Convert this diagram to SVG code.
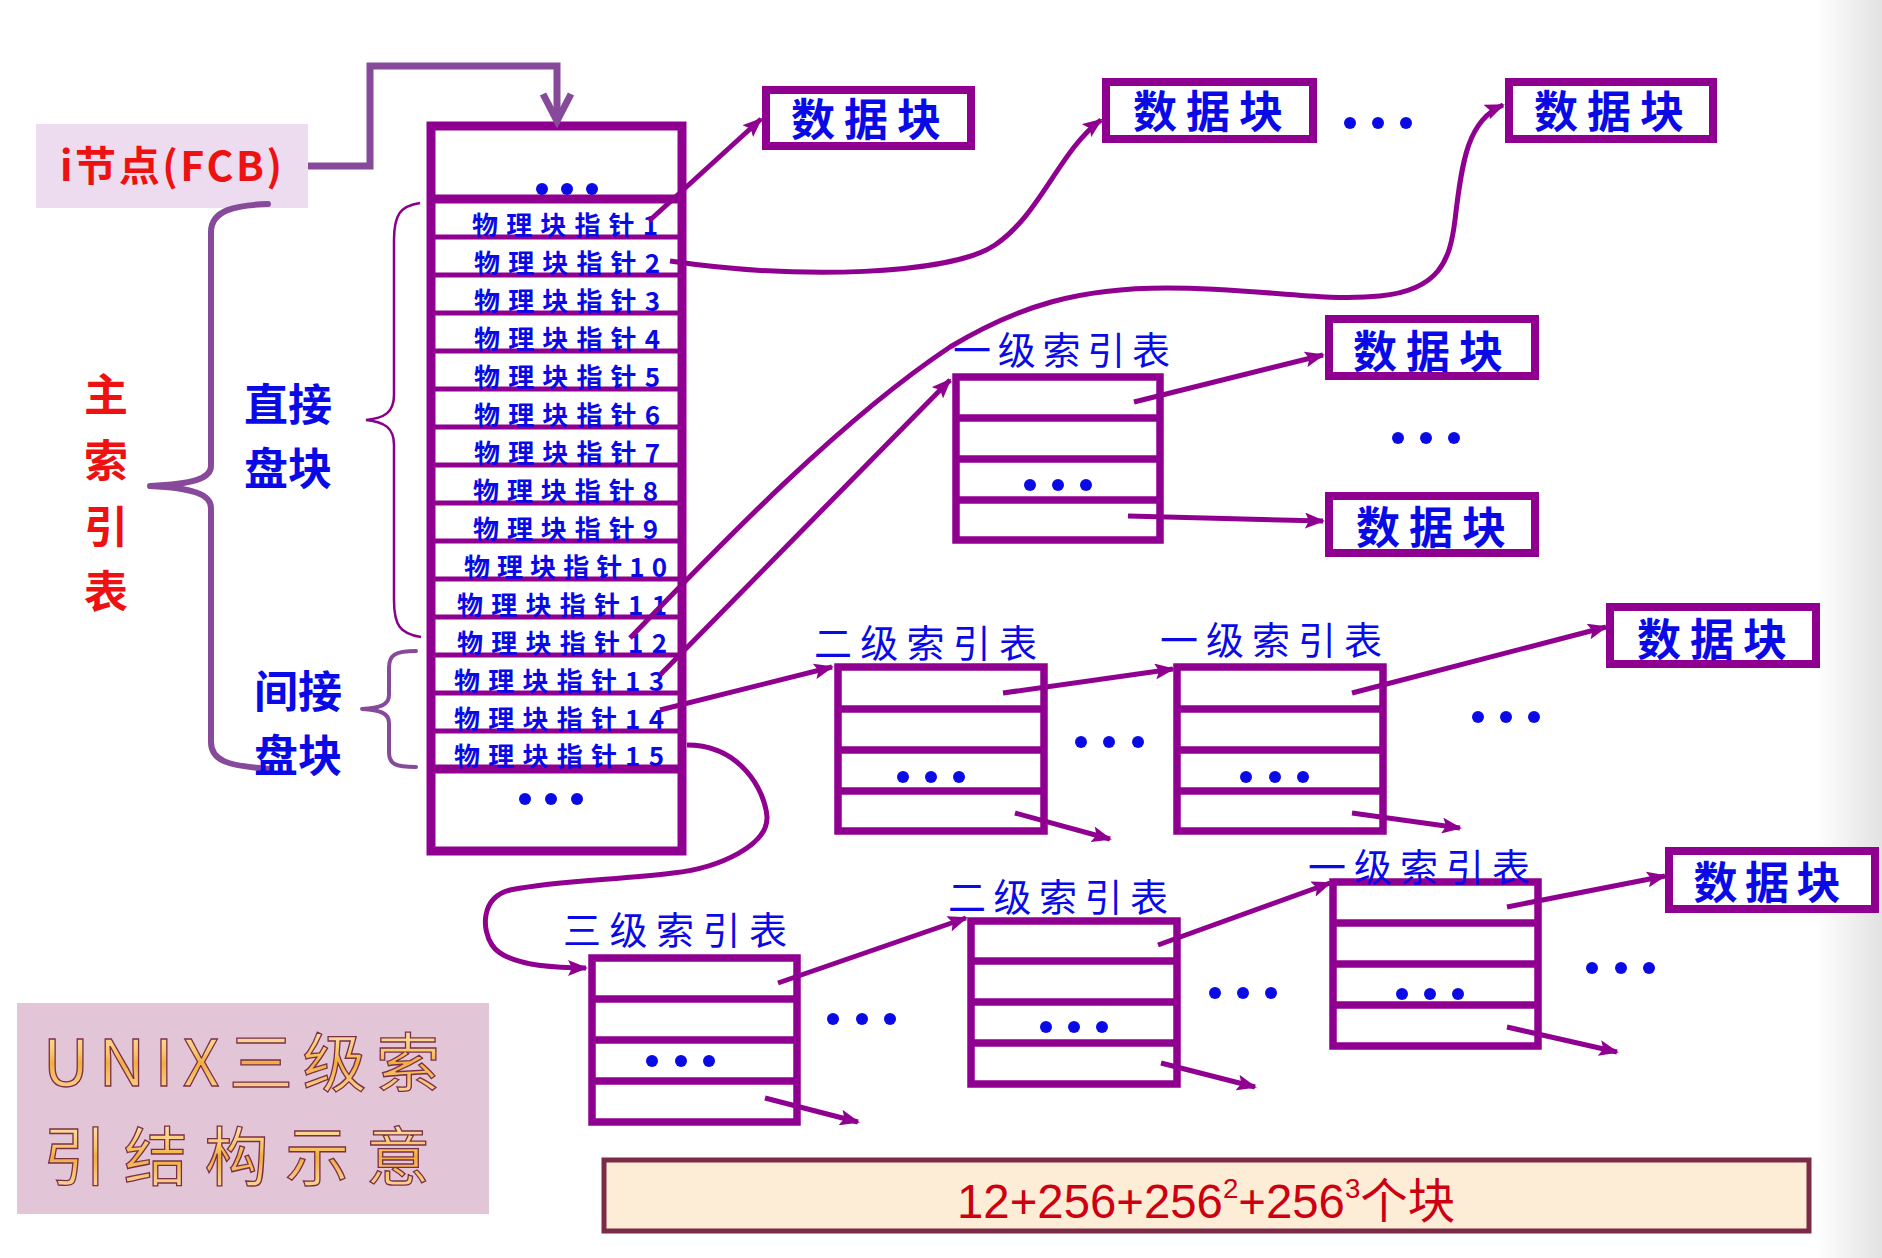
<svg xmlns="http://www.w3.org/2000/svg" width="1882" height="1258" viewBox="0 0 1882 1258">
<defs>
<style>
.cjk{font-family:"Noto Sans CJK SC","Liberation Sans",sans-serif;}
.ptr{font-size:26px;font-weight:bold;fill:#0a0ae6;}
.big{font-size:44px;font-weight:bold;fill:#0a0ae6;text-anchor:middle;}
.red{font-size:44px;font-weight:bold;fill:#ee1111;text-anchor:middle;}
.dblk{font-size:44px;font-weight:bold;fill:#0a0ae6;text-anchor:middle;}
.ilbl{font-size:38px;fill:#0a0ae6;}
.box{fill:#ffffff;stroke:#900090;stroke-width:8;}
.itab{fill:#ffffff;stroke:#900090;stroke-width:7.5;}
.iline{stroke:#900090;stroke-width:7.5;}
.tline{stroke:#900090;stroke-width:5;}
.tthick{stroke:#900090;stroke-width:9;}
.conn{fill:none;stroke:#900090;stroke-width:5;marker-end:url(#ah);}
.dot{fill:#0a0ae6;}
.brace{fill:none;stroke:#874a9b;stroke-linecap:round;stroke-linejoin:round;}
.cap{font-size:64px;fill:url(#gold);stroke:#7a2f45;stroke-width:1.3;}
</style>
<marker id="ah" viewBox="0 0 20 16" refX="18" refY="8" markerWidth="20" markerHeight="16" markerUnits="userSpaceOnUse" orient="auto">
<path d="M0,0 L20,8 L0,16 L4,8 z" fill="#900090"/>
</marker>
<linearGradient id="edge" x1="0" y1="0" x2="1" y2="0">
<stop offset="0" stop-color="#ffffff"/>
<stop offset="1" stop-color="#e2e2e2"/>
</linearGradient>
<linearGradient id="gold" x1="0" y1="0" x2="0" y2="1">
<stop offset="0" stop-color="#fff4e0"/>
<stop offset="0.45" stop-color="#f7c56a"/>
<stop offset="0.55" stop-color="#f1ad40"/>
<stop offset="1" stop-color="#fde3b8"/>
</linearGradient>
</defs>

<rect x="0" y="0" width="1882" height="1258" fill="#ffffff"/>
<rect x="1815" y="0" width="67" height="1258" fill="url(#edge)"/>

<!-- i node -->
<g id="inode">
<rect x="36" y="124" width="272" height="84" fill="#eddcef"/>
<text class="cjk" x="60" y="181" font-size="41" font-weight="bold" fill="#ee1111" textLength="222" lengthAdjust="spacing">i节点(FCB)</text>
</g>

<!-- braces and side labels -->
<g id="main-index-brace">
<path class="brace" stroke-width="6" d="M268,204 C236,205 211,210 211,232 V466 C211,479 192,484 150,486 C192,488 211,494 211,508 V742 C211,760 226,766 270,769"/>
<text class="cjk red" x="106" y="411">主</text>
<text class="cjk red" x="106" y="477">索</text>
<text class="cjk red" x="106" y="543">引</text>
<text class="cjk red" x="106" y="608">表</text>
</g>
<g id="direct-brace">
<path fill="none" stroke="#8b008b" stroke-width="2.5" d="M420,203 C400,206 394,215 394,240 V395 C394,412 385,418 366,420 C385,422 394,428 394,445 V600 C394,625 400,634 421,637"/>
<text class="cjk big" x="288" y="421">直接</text>
<text class="cjk big" x="288" y="485">盘块</text>
</g>
<g id="indirect-brace">
<path class="brace" stroke-width="4" d="M416,651 C395,651 389,655 389,668 V695 C389,705 380,708 362,709 C380,710 389,713 389,723 V752 C389,764 395,767 416,767"/>
<text class="cjk big" x="298" y="708">间接</text>
<text class="cjk big" x="298" y="772">盘块</text>
</g>

<!-- main index table -->
<g id="main-table">
<rect x="431" y="126" width="251" height="725" fill="#ffffff" stroke="#900090" stroke-width="9"/>
<line class="tthick" x1="431" y1="199" x2="682" y2="199"/>
<line class="tline" x1="431" y1="237" x2="682" y2="237"/>
<line class="tline" x1="431" y1="275" x2="682" y2="275"/>
<line class="tline" x1="431" y1="313" x2="682" y2="313"/>
<line class="tline" x1="431" y1="351" x2="682" y2="351"/>
<line class="tline" x1="431" y1="389" x2="682" y2="389"/>
<line class="tline" x1="431" y1="427" x2="682" y2="427"/>
<line class="tline" x1="431" y1="465" x2="682" y2="465"/>
<line class="tline" x1="431" y1="503" x2="682" y2="503"/>
<line class="tline" x1="431" y1="541" x2="682" y2="541"/>
<line class="tline" x1="431" y1="579" x2="682" y2="579"/>
<line class="tline" x1="431" y1="617" x2="682" y2="617"/>
<line class="tline" x1="431" y1="655" x2="682" y2="655"/>
<line class="tline" x1="431" y1="693" x2="682" y2="693"/>
<line class="tline" x1="431" y1="731" x2="682" y2="731"/>
<line class="tthick" x1="431" y1="769" x2="682" y2="769"/>
<circle class="dot" cx="542" cy="189" r="6"/><circle class="dot" cx="567" cy="189" r="6"/><circle class="dot" cx="592" cy="189" r="6"/>
<circle class="dot" cx="525" cy="799" r="6"/><circle class="dot" cx="551" cy="799" r="6"/><circle class="dot" cx="577" cy="799" r="6"/>
<text class="cjk ptr" x="472" y="235" textLength="186" lengthAdjust="spacing">物理块指针1</text>
<text class="cjk ptr" x="474" y="273" textLength="186" lengthAdjust="spacing">物理块指针2</text>
<text class="cjk ptr" x="474" y="311" textLength="186" lengthAdjust="spacing">物理块指针3</text>
<text class="cjk ptr" x="474" y="349" textLength="186" lengthAdjust="spacing">物理块指针4</text>
<text class="cjk ptr" x="474" y="387" textLength="186" lengthAdjust="spacing">物理块指针5</text>
<text class="cjk ptr" x="474" y="425" textLength="186" lengthAdjust="spacing">物理块指针6</text>
<text class="cjk ptr" x="474" y="463" textLength="186" lengthAdjust="spacing">物理块指针7</text>
<text class="cjk ptr" x="473" y="501" textLength="185" lengthAdjust="spacing">物理块指针8</text>
<text class="cjk ptr" x="473" y="539" textLength="185" lengthAdjust="spacing">物理块指针9</text>
<text class="cjk ptr" x="464" y="577" textLength="203" lengthAdjust="spacing">物理块指针10</text>
<text class="cjk ptr" x="457" y="615" textLength="210" lengthAdjust="spacing">物理块指针11</text>
<text class="cjk ptr" x="457" y="653" textLength="210" lengthAdjust="spacing">物理块指针12</text>
<text class="cjk ptr" x="454" y="691" textLength="210" lengthAdjust="spacing">物理块指针13</text>
<text class="cjk ptr" x="454" y="729" textLength="210" lengthAdjust="spacing">物理块指针14</text>
<text class="cjk ptr" x="454" y="766" textLength="210" lengthAdjust="spacing">物理块指针15</text>
</g>

<!-- data blocks -->
<g id="data1"><rect class="box" x="766" y="90" width="205" height="56"/><text class="cjk dblk" x="866" y="136" textLength="150" lengthAdjust="spacing">数据块</text></g>
<g id="data2"><rect class="box" x="1106" y="82" width="207" height="57"/><text class="cjk dblk" x="1208" y="128" textLength="150" lengthAdjust="spacing">数据块</text></g>
<g id="data3"><rect class="box" x="1509" y="82" width="204" height="57"/><text class="cjk dblk" x="1609" y="128" textLength="150" lengthAdjust="spacing">数据块</text></g>
<g id="data4"><rect class="box" x="1329" y="319" width="206" height="57"/><text class="cjk dblk" x="1428" y="368" textLength="150" lengthAdjust="spacing">数据块</text></g>
<g id="data5"><rect class="box" x="1329" y="496" width="206" height="57"/><text class="cjk dblk" x="1431" y="544" textLength="150" lengthAdjust="spacing">数据块</text></g>
<g id="data6"><rect class="box" x="1610" y="607" width="206" height="57"/><text class="cjk dblk" x="1712" y="656" textLength="150" lengthAdjust="spacing">数据块</text></g>
<g id="data7"><rect class="box" x="1669" y="851" width="206" height="58"/><text class="cjk dblk" x="1767" y="899" textLength="147" lengthAdjust="spacing">数据块</text></g>

<!-- index tables -->
<g id="idxA">
<rect class="itab" x="956" y="377" width="204" height="163"/>
<line class="iline" x1="956" y1="418" x2="1160" y2="418"/><line class="iline" x1="956" y1="459" x2="1160" y2="459"/><line class="iline" x1="956" y1="500" x2="1160" y2="500"/>
<circle class="dot" cx="1030" cy="485" r="6"/><circle class="dot" cx="1058" cy="485" r="6"/><circle class="dot" cx="1086" cy="485" r="6"/>
<text class="cjk ilbl" x="953" y="364" textLength="217" lengthAdjust="spacing">一级索引表</text>
</g>
<g id="idxB">
<rect class="itab" x="838" y="667" width="206" height="164"/>
<line class="iline" x1="838" y1="709" x2="1044" y2="709"/><line class="iline" x1="838" y1="750" x2="1044" y2="750"/><line class="iline" x1="838" y1="791" x2="1044" y2="791"/>
<circle class="dot" cx="903" cy="777" r="6"/><circle class="dot" cx="931" cy="777" r="6"/><circle class="dot" cx="959" cy="777" r="6"/>
<text class="cjk ilbl" x="814" y="657" textLength="223" lengthAdjust="spacing">二级索引表</text>
</g>
<g id="idxC">
<rect class="itab" x="1177" y="667" width="206" height="164"/>
<line class="iline" x1="1177" y1="709" x2="1383" y2="709"/><line class="iline" x1="1177" y1="750" x2="1383" y2="750"/><line class="iline" x1="1177" y1="791" x2="1383" y2="791"/>
<circle class="dot" cx="1246" cy="777" r="6"/><circle class="dot" cx="1275" cy="777" r="6"/><circle class="dot" cx="1303" cy="777" r="6"/>
<text class="cjk ilbl" x="1160" y="654" textLength="222" lengthAdjust="spacing">一级索引表</text>
</g>
<g id="idxD">
<rect class="itab" x="592" y="958" width="205" height="164"/>
<line class="iline" x1="592" y1="999" x2="797" y2="999"/><line class="iline" x1="592" y1="1040" x2="797" y2="1040"/><line class="iline" x1="592" y1="1081" x2="797" y2="1081"/>
<circle class="dot" cx="652" cy="1061" r="6"/><circle class="dot" cx="681" cy="1061" r="6"/><circle class="dot" cx="709" cy="1061" r="6"/>
<text class="cjk ilbl" x="563" y="944" textLength="224" lengthAdjust="spacing">三级索引表</text>
</g>
<g id="idxE">
<rect class="itab" x="971" y="921" width="206" height="163"/>
<line class="iline" x1="971" y1="961" x2="1177" y2="961"/><line class="iline" x1="971" y1="1002" x2="1177" y2="1002"/><line class="iline" x1="971" y1="1043" x2="1177" y2="1043"/>
<circle class="dot" cx="1046" cy="1027" r="6"/><circle class="dot" cx="1074" cy="1027" r="6"/><circle class="dot" cx="1102" cy="1027" r="6"/>
<text class="cjk ilbl" x="948" y="911" textLength="220" lengthAdjust="spacing">二级索引表</text>
</g>
<g id="idxF">
<rect class="itab" x="1333" y="882" width="205" height="164"/>
<line class="iline" x1="1333" y1="923" x2="1538" y2="923"/><line class="iline" x1="1333" y1="964" x2="1538" y2="964"/><line class="iline" x1="1333" y1="1005" x2="1538" y2="1005"/>
<circle class="dot" cx="1402" cy="994" r="6"/><circle class="dot" cx="1430" cy="994" r="6"/><circle class="dot" cx="1458" cy="994" r="6"/>
<text class="cjk ilbl" x="1308" y="881" textLength="222" lengthAdjust="spacing">一级索引表</text>
</g>

<!-- ellipses -->
<g id="ellipses">
<circle class="dot" cx="1350" cy="123" r="6"/><circle class="dot" cx="1378" cy="123" r="6"/><circle class="dot" cx="1406" cy="123" r="6"/>
<circle class="dot" cx="1398" cy="438" r="6"/><circle class="dot" cx="1426" cy="438" r="6"/><circle class="dot" cx="1454" cy="438" r="6"/>
<circle class="dot" cx="1081" cy="742" r="6"/><circle class="dot" cx="1109" cy="742" r="6"/><circle class="dot" cx="1138" cy="742" r="6"/>
<circle class="dot" cx="1478" cy="717" r="6"/><circle class="dot" cx="1506" cy="717" r="6"/><circle class="dot" cx="1534" cy="717" r="6"/>
<circle class="dot" cx="833" cy="1019" r="6"/><circle class="dot" cx="862" cy="1019" r="6"/><circle class="dot" cx="890" cy="1019" r="6"/>
<circle class="dot" cx="1215" cy="993" r="6"/><circle class="dot" cx="1243" cy="993" r="6"/><circle class="dot" cx="1271" cy="993" r="6"/>
<circle class="dot" cx="1592" cy="968" r="6"/><circle class="dot" cx="1621" cy="968" r="6"/><circle class="dot" cx="1649" cy="968" r="6"/>
</g>

<!-- connectors -->
<g id="connectors">
<path d="M308,166 H370 V66 H557 V120" fill="none" stroke="#874a9b" stroke-width="7"/>
<path d="M543,94 L557,121 L571,94" fill="none" stroke="#874a9b" stroke-width="7" stroke-linejoin="miter"/>
<path class="conn" d="M649,221 L761,119"/>
<path class="conn" d="M670,261 C800,280 950,275 995,245 C1040,215 1060,150 1101,120"/>
<path class="conn" d="M630,638 C720,545 840,420 950,347 C1020,305 1080,288 1167,288 C1260,288 1320,302 1380,296 C1440,290 1450,260 1455,220 C1462,160 1468,120 1503,105"/>
<path class="conn" d="M660,675 L950,380"/>
<path class="conn" d="M660,710 L832,667"/>
<path class="conn" d="M687,745 C740,745 765,790 767,817 C768,845 720,868 673,873 C620,880 560,880 510,890 C480,898 482,930 492,945 C505,965 550,968 586,968"/>
<path class="conn" d="M1134,402 L1323,355"/>
<path class="conn" d="M1128,516 L1323,521"/>
<path class="conn" d="M1003,693 L1173,669"/>
<path class="conn" d="M1015,813 L1110,839"/>
<path class="conn" d="M1352,693 L1606,627"/>
<path class="conn" d="M1352,813 L1460,828"/>
<path class="conn" d="M778,983 L966,918"/>
<path class="conn" d="M765,1098 L858,1122"/>
<path class="conn" d="M1158,945 L1330,883"/>
<path class="conn" d="M1161,1063 L1255,1087"/>
<path class="conn" d="M1507,907 L1665,876"/>
<path class="conn" d="M1507,1027 L1617,1052"/>
</g>

<!-- caption -->
<g id="caption">
<rect x="17" y="1003" width="472" height="211" fill="#e3c5d8"/>
<text class="cjk cap" x="43" y="1086" textLength="397" lengthAdjust="spacing">UNIX三级索</text>
<text class="cjk cap" x="43" y="1180" textLength="387" lengthAdjust="spacing">引结构示意</text>
</g>

<!-- formula -->
<g id="formula">
<rect x="604" y="1160" width="1205" height="71" fill="#fdecd6" stroke="#7b2a48" stroke-width="5"/>
<text x="957" y="1218" font-family="'Liberation Sans',sans-serif" font-size="48" fill="#cc0010" textLength="498" lengthAdjust="spacingAndGlyphs">12+256+256<tspan font-size="28" dy="-20">2</tspan><tspan dy="20">+256</tspan><tspan font-size="28" dy="-20">3</tspan><tspan dy="20" font-family="'Noto Sans CJK SC',sans-serif">个块</tspan></text>
</g>
</svg>
